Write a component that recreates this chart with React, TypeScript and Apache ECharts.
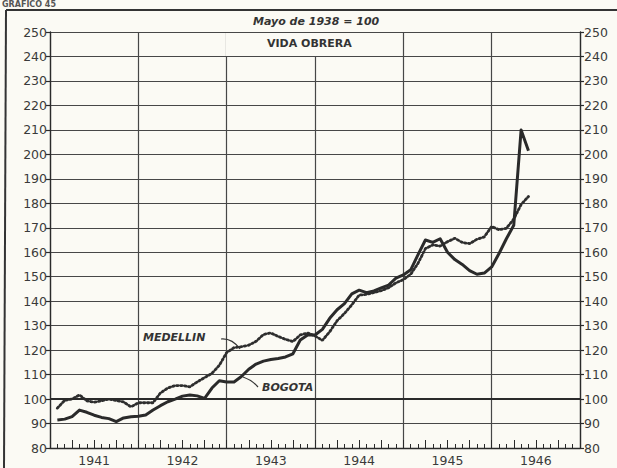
import React, { useEffect, useRef } from "react";
import * as echarts from "echarts";

// Year labels and month names (x axis: month boundaries Jan 1941 .. Jan 1947)
const years = ["1941", "1942", "1943", "1944", "1945", "1946"];
const monthNames = ["Ene", "Feb", "Mar", "Abr", "May", "Jun", "Jul", "Ago", "Sep", "Oct", "Nov", "Dic"];

// Y ticks
const yMin = 80;
const yMax = 250;
const yStep = 10;

// Monthly index values (Mayo de 1938 = 100), Jan 1941 .. May 1946, plotted at month end
const bogota = [
  91.4, 91.8, 92.8, 95.5, 94.6, 93.4, 92.5, 92.0, 90.8, 92.3, 92.8, 93.0,
  93.5, 95.5, 97.3, 98.9, 100.0, 101.2, 101.7, 101.3, 100.3, 104.5, 107.5, 107.0,
  107.0, 109.2, 112.2, 114.3, 115.5, 116.2, 116.6, 117.2, 118.5, 124.1, 126.2, 126.2,
  128.5, 133.0, 136.5, 139.0, 143.0, 144.5, 143.5, 144.2, 145.4, 146.6, 149.4, 150.7,
  152.8, 159.0, 165.0, 164.0, 165.5, 160.0, 157.0, 155.0, 152.5, 151.0, 151.5, 154.0,
  159.5, 165.5, 171.0, 210.0, 201.5,
];
const medellin = [
  96.3, 99.5, 100.0, 101.7, 99.3, 98.7, 99.3, 100.0, 99.4, 98.8, 96.8, 98.5,
  98.5, 98.5, 102.5, 104.5, 105.5, 105.5, 105.0, 107.0, 108.8, 110.5, 113.8, 119.0,
  121.0, 121.4, 122.0, 123.6, 126.4, 127.0, 125.6, 124.4, 123.5, 126.2, 127.0, 125.8,
  124.0, 127.5, 132.0, 135.0, 138.5, 142.5, 142.8, 143.5, 144.3, 145.5, 147.5, 148.8,
  151.0, 155.5, 161.5, 163.0, 162.5, 164.3, 165.7, 164.0, 163.5, 165.3, 166.3, 170.5,
  169.2, 169.8, 173.5, 179.5, 182.8,
];

const ink = "#2a2a2a";
const gridInk = "#474747";
const bg = "#fbfaf4";
const font = "DejaVu Sans";

export default function App() {
  const ref = useRef<HTMLDivElement>(null);

  useEffect(() => {
    if (!ref.current) return;
    const chart = echarts.init(ref.current, undefined, { renderer: "svg" });

    // category boundaries: index 0 = start of Jan 1941, index k = end of k-th month
    const cats: string[] = ["1941 inicio"];
    years.forEach((y) => monthNames.forEach((m) => cats.push(`${m} ${y}`)));

    const bogData = [null as number | null, ...bogota];
    const medData = [null as number | null, ...medellin];

    const gridLine = { color: gridInk, width: 1.2 };

    chart.setOption({
      animation: false,
      backgroundColor: bg,
      grid: { left: 50, right: 37, top: 32, bottom: 20, containLabel: false },
      xAxis: [
        {
          type: "category",
          data: cats,
          boundaryGap: false,
          position: "bottom",
          axisLine: { show: true, lineStyle: { color: ink, width: 1.3 } },
          axisTick: {
            show: true,
            inside: true,
            length: 4,
            interval: 0,
            lineStyle: { color: ink, width: 1 },
          },
          axisLabel: {
            interval: (i: number) => i % 12 === 6,
            formatter: (_v: string, i: number) => years[Math.floor(i / 12)] ?? "",
            color: "#3a3a3a",
            fontFamily: font,
            fontSize: 12.5,
            margin: 6,
          },
          splitLine: {
            show: true,
            interval: (i: number) => i % 12 === 0,
            lineStyle: gridLine,
          },
        },
        {
          type: "category",
          data: cats,
          boundaryGap: false,
          position: "bottom",
          gridIndex: 0,
          axisLine: { show: false },
          axisTick: {
            show: true,
            inside: true,
            length: 8,
            interval: (i: number) => i % 3 === 0,
            lineStyle: { color: ink, width: 1 },
          },
          axisLabel: { show: false },
          splitLine: { show: false },
        },
      ],
      yAxis: [
        {
          type: "value",
          min: yMin,
          max: yMax,
          interval: yStep,
          position: "left",
          axisLine: { show: true, lineStyle: { color: ink, width: 1.3 } },
          axisTick: { show: true, length: 4, lineStyle: { color: ink, width: 1.2 } },
          axisLabel: { color: "#3a3a3a", fontFamily: font, fontSize: 12.5, margin: 3 },
          splitLine: { show: true, lineStyle: gridLine },
        },
        {
          type: "value",
          min: yMin,
          max: yMax,
          interval: yStep,
          position: "right",
          axisLine: { show: true, lineStyle: { color: ink, width: 1.3 } },
          axisTick: { show: true, length: 4, lineStyle: { color: ink, width: 1.2 } },
          axisLabel: { color: "#3a3a3a", fontFamily: font, fontSize: 12.5, margin: 4 },
          splitLine: { show: false },
        },
      ],
      series: [
        {
          name: "Medellín",
          type: "line",
          data: medData,
          showSymbol: false,
          symbol: "none",
          z: 3,
          lineStyle: { color: "#2e2e2e", width: 2.8, type: [1.5, 2.5], cap: "round" },
        },
        {
          name: "Bogotá",
          type: "line",
          data: bogData,
          showSymbol: false,
          symbol: "none",
          z: 4,
          lineStyle: { color: ink, width: 3, join: "round" },
          markLine: {
            silent: true,
            symbol: "none",
            label: { show: false },
            lineStyle: { color: ink, width: 2.2, type: "solid" },
            data: [{ yAxis: 100 }],
          },
        },
      ],
      graphic: [
        // outer frame
        { type: "line", z: 20, shape: { x1: 6, y1: 10, x2: 617, y2: 10 }, style: { stroke: "#333", lineWidth: 2 } },
        { type: "line", z: 20, shape: { x1: 6, y1: 10, x2: 4, y2: 468 }, style: { stroke: "#333", lineWidth: 2 } },
        {
          type: "text",
          z: 20,
          left: 2,
          top: 0,
          style: { text: "GRAFICO 45", fill: "#555", font: `bold 8px ${font}` },
        },
        // title box
        { type: "rect", z: 15, shape: { x: 226, y: 33, width: 176, height: 23 }, style: { fill: bg } },
        {
          type: "text",
          z: 20,
          left: 253,
          top: 16,
          style: { text: "Mayo de 1938 = 100", fill: "#333", font: `italic bold 11px ${font}` },
        },
        {
          type: "text",
          z: 20,
          left: 267,
          top: 38,
          style: { text: "VIDA OBRERA", fill: "#333", font: `bold 11px ${font}` },
        },
        // series labels
        {
          type: "text",
          z: 20,
          left: 143,
          top: 332,
          style: { text: "MEDELLIN", fill: "#333", font: `italic bold 11px ${font}` },
        },
        {
          type: "bezierCurve",
          z: 20,
          shape: { x1: 221, y1: 339, cpx1: 232, cpy1: 338, x2: 240, y2: 349 },
          style: { stroke: "#333", lineWidth: 1.2, fill: "none" },
        },
        {
          type: "text",
          z: 20,
          left: 262,
          top: 382,
          style: { text: "BOGOTA", fill: "#333", font: `italic bold 11px ${font}` },
        },
        {
          type: "bezierCurve",
          z: 20,
          shape: { x1: 258, y1: 387, cpx1: 252, cpy1: 380, x2: 243, y2: 377 },
          style: { stroke: "#333", lineWidth: 1.2, fill: "none" },
        },
      ],
    });

    return () => chart.dispose();
  }, []);

  return (
    <div
      ref={ref}
      style={{ position: "fixed", left: 0, top: 0, width: 617, height: 468, background: bg }}
    />
  );
}
